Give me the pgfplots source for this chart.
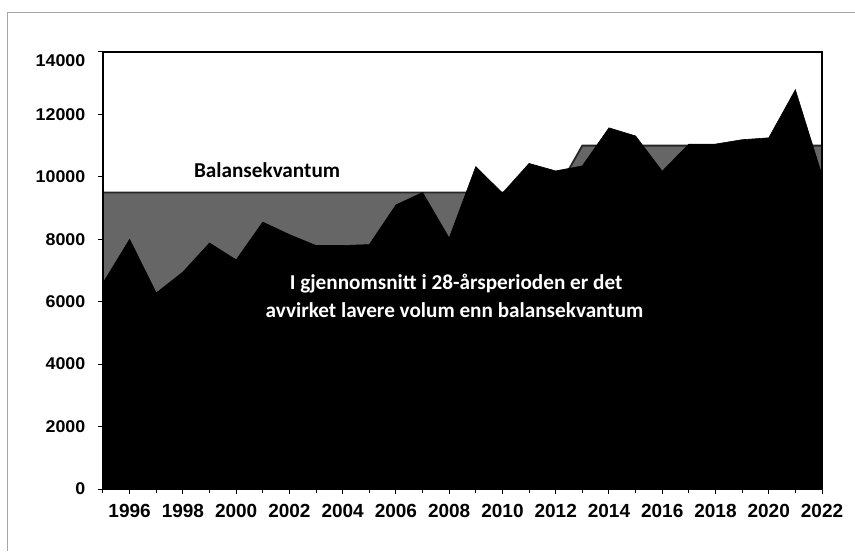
\documentclass[border=0pt]{standalone}
\usepackage{fontspec}
\setmainfont{Liberation Sans}
\newfontfamily\carlito{Carlito}
\usepackage{pgfplots}
\usepackage{pgfplotstable}
\pgfplotsset{compat=1.18}
\pgfplotstableread{
year value
1995 6600
1996 8000
1997 6280
1998 6950
1999 7880
2000 7340
2001 8550
2002 8150
2003 7800
2004 7800
2005 7830
2006 9100
2007 9500
2008 8040
2009 10330
2010 9480
2011 10430
2012 10190
2013 10350
2014 11570
2015 11310
2016 10180
2017 11050
2018 11050
2019 11190
2020 11250
2021 12790
2022 10050
}\avvirkning
\pgfplotstableread{
year value
1995 9500
1996 9500
1997 9500
1998 9500
1999 9500
2000 9500
2001 9500
2002 9500
2003 9500
2004 9500
2005 9500
2006 9500
2007 9500
2008 9500
2009 9500
2010 9500
2011 9500
2012 9500
2013 11000
2014 11000
2015 11000
2016 11000
2017 11000
2018 11000
2019 11000
2020 11000
2021 11000
2022 11000
}\balanse
\begin{document}
\begin{tikzpicture}
\useasboundingbox (-51.5pt,-31pt) rectangle (376pt,244.5pt);
\fill[white] (-51.5pt,-31pt) rectangle (376pt,244.5pt);
\draw[gray!70, line width=0.5pt] (-47.5pt,-31pt) -- (-47.5pt,238pt) -- (376pt,238pt);
\begin{axis}[at={(0,0)}, anchor=south west, scale only axis,
  width=359.5pt, height=218.5pt,
  xmin=1995, xmax=2022, ymin=0, ymax=14000,
  xtick={1996,1998,...,2022}, minor xtick={1995,1997,...,2021},
  ytick={0,2000,...,12000}, extra y ticks={14000},
  extra y tick style={yticklabel style={yshift=-4.5pt}},
  scaled y ticks=false, scaled x ticks=false,
  tick align=outside, xtick pos=left, ytick pos=left,
  major tick length=2.5pt, minor tick length=2pt,
  tick style={black, line width=0.5pt},
  /pgf/number format/assume math mode=true, /pgf/number format/1000 sep={},
  xticklabel style={font=\bfseries\fontsize{9.5}{11}\selectfont, yshift=-1.5pt},
  yticklabel style={font=\bfseries\fontsize{8.5}{10}\selectfont, xscale=1.05, xshift=-2.5pt},
  axis line style={black, line width=0.6pt},
  axis on top]
\addplot[fill=black!60, draw=black!85, line width=0.9pt] table[x=year,y=value] {\balanse} \closedcycle;
\addplot[fill=black, draw=black, line width=0.3pt] table[x=year,y=value] {\avvirkning} \closedcycle;
\node[font=\carlito\bfseries\fontsize{10.6}{12}\selectfont, anchor=base] at (axis cs:2001.16,9965) {Balansekvantum};
\node[font=\carlito\bfseries\fontsize{10.6}{12}\selectfont, text=white, anchor=base] at (axis cs:2008.26,6376) {I gjennomsnitt i 28-årsperioden er det};
\node[font=\carlito\bfseries\fontsize{10.6}{12}\selectfont, text=white, anchor=base] at (axis cs:2008.2,5479) {avvirket lavere volum enn balansekvantum};
\end{axis}
\end{tikzpicture}
\end{document}
